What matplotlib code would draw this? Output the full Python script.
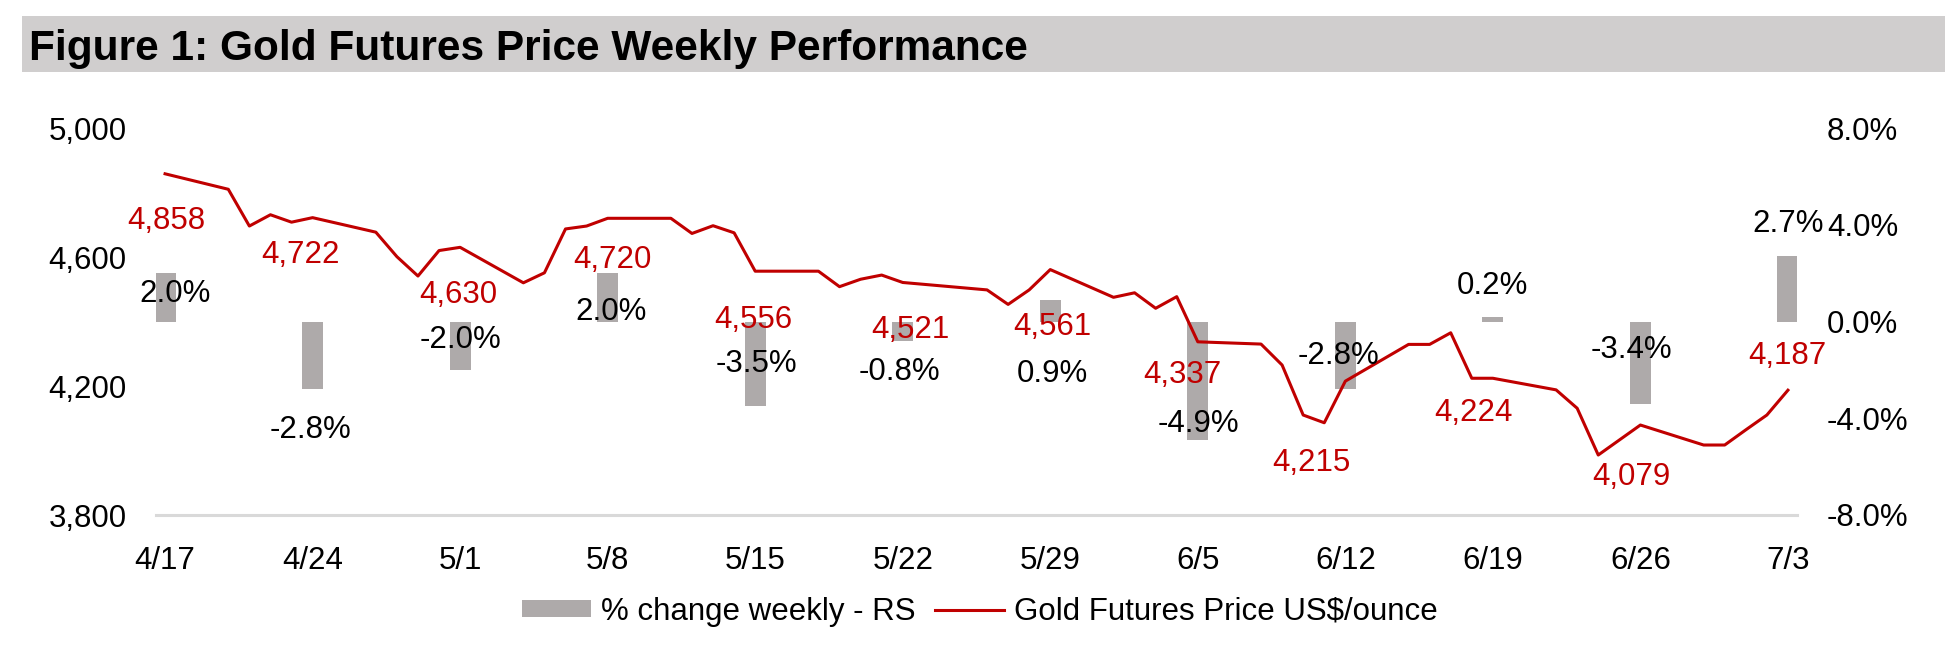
import matplotlib
matplotlib.use('Agg')
import matplotlib.pyplot as plt
import matplotlib.dates as mdates
import matplotlib.ticker as mticker
from matplotlib.patches import Rectangle, Patch
from matplotlib.lines import Line2D
import pandas as pd

plt.rcParams['font.family'] = ['Liberation Sans', 'DejaVu Sans']

# ---------------- data ----------------
price_dates = ['2026-04-17', '2026-04-20', '2026-04-21', '2026-04-22', '2026-04-23', '2026-04-24',
               '2026-04-27', '2026-04-28', '2026-04-29', '2026-04-30', '2026-05-01',
               '2026-05-04', '2026-05-05', '2026-05-06', '2026-05-07', '2026-05-08',
               '2026-05-11', '2026-05-12', '2026-05-13', '2026-05-14', '2026-05-15',
               '2026-05-18', '2026-05-19', '2026-05-20', '2026-05-21', '2026-05-22',
               '2026-05-26', '2026-05-27', '2026-05-28', '2026-05-29',
               '2026-06-01', '2026-06-02', '2026-06-03', '2026-06-04', '2026-06-05',
               '2026-06-08', '2026-06-09', '2026-06-10', '2026-06-11', '2026-06-12',
               '2026-06-15', '2026-06-16', '2026-06-17', '2026-06-18', '2026-06-19',
               '2026-06-22', '2026-06-23', '2026-06-24', '2026-06-26',
               '2026-06-29', '2026-06-30', '2026-07-01', '2026-07-02', '2026-07-03']
prices = [4858, 4810, 4696, 4731, 4708, 4722,
          4677, 4601, 4541, 4620, 4630,
          4520, 4551, 4687, 4696, 4720,
          4720, 4673, 4697, 4675, 4556,
          4556, 4508, 4531, 4544, 4521,
          4498, 4453, 4498, 4561,
          4475, 4489, 4441, 4477, 4337,
          4330, 4265, 4110, 4086, 4215,
          4329, 4329, 4365, 4224, 4224,
          4188, 4131, 3986, 4079,
          4017, 4017, 4064, 4110, 4187]

week_dates = ['2026-04-17', '2026-04-24', '2026-05-01', '2026-05-08', '2026-05-15', '2026-05-22',
              '2026-05-29', '2026-06-05', '2026-06-12', '2026-06-19', '2026-06-26', '2026-07-03']
tick_labels = ['4/17', '4/24', '5/1', '5/8', '5/15', '5/22', '5/29', '6/5', '6/12', '6/19', '6/26', '7/3']
weekly_pct = [2.0, -2.8, -2.0, 2.0, -3.5, -0.8, 0.9, -4.9, -2.8, 0.2, -3.4, 2.7]
week_close = [4858, 4722, 4630, 4720, 4556, 4521, 4561, 4337, 4215, 4224, 4079, 4187]

left_ticks = [3800, 4200, 4600, 5000]
right_ticks = [-8, -4, 0, 4, 8]

title = 'Figure 1: Gold Futures Price Weekly Performance'
bar_label = '% change weekly - RS'
line_label = 'Gold Futures Price US$/ounce'

# label placement (pixel offsets from anchor; layout only)
price_label_offsets = [(1, -44), (-12, -34), (-2, -45), (5, -39), (-2, -46), (8, -45),
                       (2, -54), (-15, -30), (-34, -79), (-19, -32), (-9, -49), (-1, 37)]
pct_label_offsets = [(10, 30), (-2, -105), (0, -15), (3, 13), (1, -40), (-3, -47),
                     (2, -50), (1, -100), (-7, -31), (0, 38), (-9, -25), (0, 100)]
LABEL_SHIFT = -3  # px, compensates text box descent

# ---------------- styles ----------------
RED = '#C00000'
GREY = '#AEAAAA'
FS = 22.5

W, H = 1960, 646
fig = plt.figure(figsize=(W / 100, H / 100), dpi=100)

# title bar
fig.patches.append(Rectangle((22 / W, 1 - 72 / H), (1945 - 22) / W, 56 / H,
                             transform=fig.transFigure, facecolor='#D0CECE',
                             edgecolor='none', zorder=0))
fig.text(29 / W, 1 - 60 / H, title, fontsize=30.5, fontweight='bold',
         ha='left', va='baseline', color='black')

pos = [156 / W, (H - 515) / H, (1797 - 156) / W, (515 - 128) / H]
ax2 = fig.add_axes(pos)
ax = fig.add_axes(pos, sharex=ax2)
ax.set_zorder(ax2.get_zorder() + 1)
ax.patch.set_visible(False)

pdates = pd.to_datetime(price_dates)
wdates = pd.to_datetime(week_dates)

# bars on right axis
ax2.bar(wdates, weekly_pct, width=1.0, color=GREY, zorder=2)
ax2.set_ylim(-8, 8)
ax2.yaxis.tick_right()
ax2.set_yticks(right_ticks)
ax2.yaxis.set_major_formatter(mticker.FuncFormatter(lambda v, p: f'{v:.1f}%'))
ax2.tick_params(axis='y', length=0, pad=21.5, labelsize=FS, labelright=True, labelleft=False)
for lab in ax2.get_yticklabels():
    lab.set_horizontalalignment('left')

# line on left axis
ax.plot(pdates, prices, color=RED, lw=2.2, zorder=3)
ax.set_ylim(3800, 5000)
ax.set_yticks(left_ticks)
ax.yaxis.set_major_formatter(mticker.FuncFormatter(lambda v, p: f'{v:,.0f}'))
ax.tick_params(axis='y', length=0, pad=21, labelsize=FS)

x0 = mdates.date2num(wdates[0]) - 0.43
x1 = mdates.date2num(wdates[-1]) + 0.43
ax.set_xlim(x0, x1)
ax.set_xticks(wdates)
ax.set_xticklabels(tick_labels)
ax.tick_params(axis='x', length=0, pad=22, labelsize=FS)
ax2.tick_params(axis='x', length=0, labelbottom=False)

for a in (ax, ax2):
    for s in ('top', 'right', 'left'):
        a.spines[s].set_visible(False)
ax2.spines['bottom'].set_visible(False)
ax.spines['bottom'].set_color('#D9D9D9')
ax.spines['bottom'].set_linewidth(2.2)

# labels
for d, v, (dx, dy) in zip(wdates, week_close, price_label_offsets):
    ax.annotate(f'{v:,}', xy=(d, v), xytext=(dx * 0.72, (dy + LABEL_SHIFT) * 0.72),
                textcoords='offset points', ha='center', va='center', color=RED,
                fontsize=FS, zorder=5)
for d, v, (dx, dy) in zip(wdates, weekly_pct, pct_label_offsets):
    ax.annotate(f'{v:.1f}%', xy=(mdates.date2num(d), 0), xycoords=ax2.transData,
                xytext=(dx * 0.72, (dy + LABEL_SHIFT) * 0.72), textcoords='offset points',
                ha='center', va='center', color='black', fontsize=FS, zorder=5)

handles = [Patch(facecolor=GREY, edgecolor='none', label=bar_label),
           Line2D([], [], color=RED, lw=2.2, label=line_label)]
fig.legend(handles=handles, loc='center', bbox_to_anchor=(0.5, (H - 612) / H), ncol=2,
           frameon=False, fontsize=FS, handlelength=2.2, handleheight=0.45,
           handletextpad=0.33, columnspacing=0.62, borderpad=0, borderaxespad=0)

fig.savefig('out.png', dpi=100)
